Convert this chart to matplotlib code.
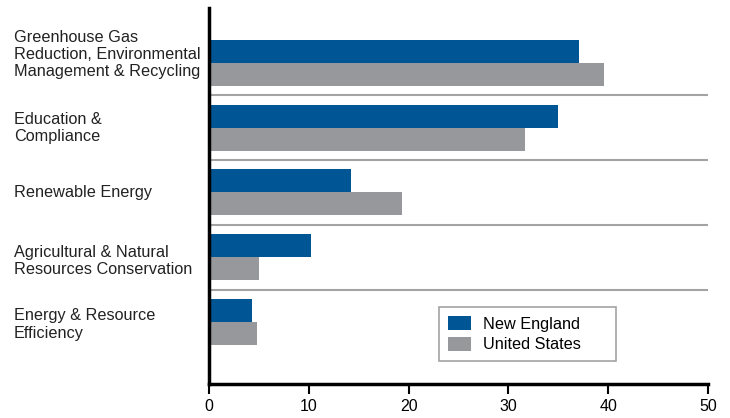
import numpy as np
import matplotlib.pyplot as plt
from matplotlib.transforms import blended_transform_factory

categories = [
    "Greenhouse Gas\nReduction, Environmental\nManagement & Recycling",
    "Education &\nCompliance",
    "Renewable Energy",
    "Agricultural & Natural\nResources Conservation",
    "Energy & Resource\nEfficiency",
]
new_england = [37.1, 35.0, 14.2, 10.2, 4.3]
united_states = [39.6, 31.7, 19.3, 5.0, 4.8]
xticks = [0, 10, 20, 30, 40, 50]

BLUE = "#005595"
GRAY = "#97989c"

plt.rcParams["font.family"] = ["Liberation Sans", "DejaVu Sans"]

fig = plt.figure(figsize=(7.3, 4.18), dpi=100)
ax = fig.add_axes([209 / 730, 1 - 384 / 418, (708 - 209) / 730, (384 - 8) / 418])

y = np.arange(len(categories))
h = 0.355
ax.barh(y - h / 2, new_england, height=h, color=BLUE, label="New England")
ax.barh(y + h / 2, united_states, height=h, color=GRAY, label="United States")

# separators between groups
for sep in y[:-1] + 0.5:
    ax.plot([0, 50], [sep, sep], color="#a3a3a3", lw=1.5, zorder=0)

ax.set_xlim(0, 50)
ax.set_ylim(4.96, -0.85)
ax.set_xticks(xticks)
ax.set_yticks([])

for s in ["top", "right"]:
    ax.spines[s].set_visible(False)
for s in ["left", "bottom"]:
    ax.spines[s].set_linewidth(2.5)
    ax.spines[s].set_color("black")
ax.tick_params(axis="x", length=7, width=1.5, pad=4, labelsize=11.5)

# category labels sit left-aligned near the figure edge
label_shift = [-0.13, 0.0, 0.0, 0.06, 0.04]
trans = blended_transform_factory(fig.transFigure, ax.transData)
for yi, cat, dy in zip(y, categories, label_shift):
    ax.text(14 / 730, yi + dy, cat, transform=trans, ha="left", va="center",
            fontsize=11.7, linespacing=1.2, color="#222222")

leg = ax.legend(loc="upper left",
                bbox_to_anchor=(439 / 730, 1 - 307 / 418, 177 / 730, 0),
                bbox_transform=fig.transFigure, mode="expand", fontsize=11.7,
                fancybox=False, edgecolor="#a3a3a3", framealpha=1,
                handlelength=1.4, handleheight=1.0, borderpad=0.55,
                labelspacing=0.3, handletextpad=0.75, borderaxespad=0)
leg.get_frame().set_linewidth(1.2)

fig.savefig("out.png", dpi=100)
